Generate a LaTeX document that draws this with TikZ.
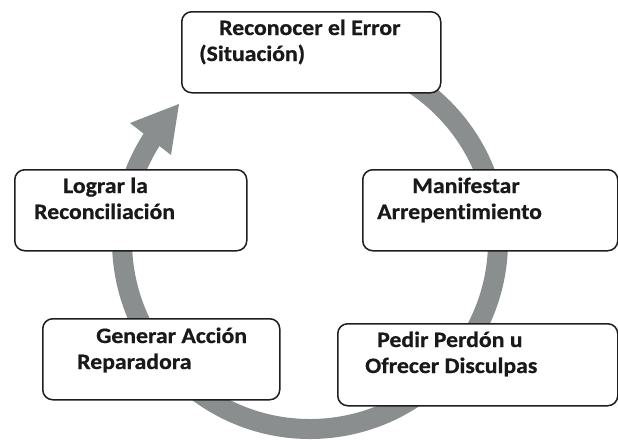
\documentclass[tikz,border=0pt]{standalone}
\usepackage{fontspec}
\setmainfont{Carlito}[FakeStretch=1.08,Ligatures={NoCommon},BoldFeatures={FakeBold=0.7}]
\definecolor{ringgray}{RGB}{138,142,142}
\definecolor{boxline}{RGB}{30,30,30}
\begin{document}
\begin{tikzpicture}[x=1pt,y=-1pt,
  box/.style={draw=boxline,line width=1.5pt,rounded corners=10pt,fill=white,anchor=north west,inner sep=0pt},
  lbl/.style={anchor=base west,inner sep=0pt,text=black!90,font=\bfseries\fontsize{22}{26}\selectfont}]
\useasboundingbox[fill=white] (0,0) rectangle (618,439);
% circular arrow
\draw[ringgray,line width=20pt] (310,241) ++(-95:188) arc[start angle=-95,end angle=214,radius=188];
\fill[ringgray] (130,123) -- (179,104) -- (171,155) -- cycle;
% boxes
\node[box,minimum width=259pt,minimum height=81pt] (b1) at (181,11) {};
\node[box,minimum width=255pt,minimum height=81pt] (b2) at (362,169) {};
\node[box,minimum width=280pt,minimum height=82pt] (b3) at (337,323) {};
\node[box,minimum width=237pt,minimum height=81pt] (b4) at (42,318) {};
\node[box,minimum width=232pt,minimum height=81pt] (b5) at (14,169) {};
% labels
\node[lbl] (t1a) at (219,35) {Reconocer el Error};
\node[lbl] (t1b) at (199,61) {(Situación)};
\node[lbl] (t2a) at (412,193) {Manifestar};
\node[lbl] (t2b) at (377,219) {Arrepentimiento};
\node[lbl] (t3a) at (377,347) {Pedir Perdón u};
\node[lbl] (t3b) at (365,373) {Ofrecer Disculpas};
\node[lbl] (t4a) at (96,343) {Generar Acción};
\node[lbl] (t4b) at (77,369) {Reparadora};
\node[lbl] (t5a) at (63,193) {Lograr la};
\node[lbl] (t5b) at (34,219) {Reconciliación};
\end{tikzpicture}
\end{document}
